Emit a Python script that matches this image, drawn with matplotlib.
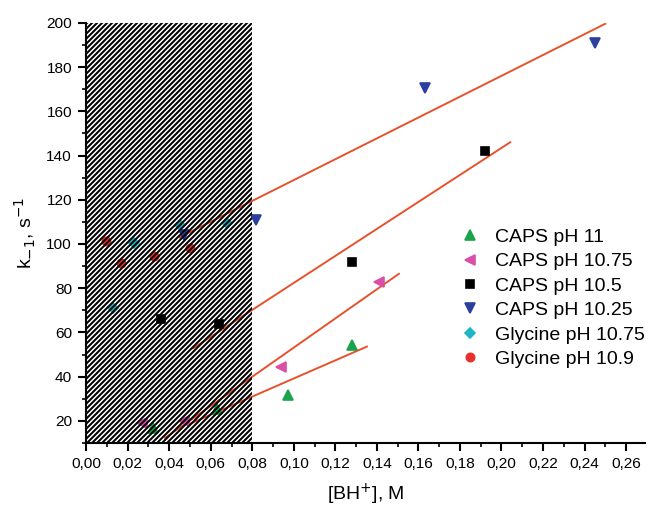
import numpy as np
import matplotlib
matplotlib.use('Agg')
import matplotlib.pyplot as plt
from matplotlib.patches import Rectangle
from matplotlib.ticker import MultipleLocator, FuncFormatter

# data
caps11_x = [0.032, 0.063, 0.097, 0.128]
caps11_y = [16.8, 25.5, 31.5, 54.4]
caps1075_x = [0.027, 0.047, 0.094, 0.141]
caps1075_y = [19.2, 20.0, 44.3, 83.0]
caps105_x = [0.036, 0.064, 0.128, 0.192]
caps105_y = [66.1, 63.9, 92.0, 142.2]
caps1025_x = [0.047, 0.082, 0.163, 0.245]
caps1025_y = [104.0, 110.9, 170.5, 190.8]
gly1075_x = [0.013, 0.023, 0.045, 0.068]
gly1075_y = [71.0, 100.4, 108.6, 109.4]
gly109_x = [0.0096, 0.0166, 0.0326, 0.050]
gly109_y = [101.5, 91.3, 94.6, 98.1]

# linear fits (end points)
fit11_x, fit11_y = [0.050, 0.1352], [18.7, 53.6]
fit1075_x, fit1075_y = [0.038, 0.1506], [12.3, 86.5]
fit105_x, fit105_y = [0.0515, 0.2042], [52.8, 146.0]
fit1025_x, fit1025_y = [0.045, 0.250], [103.0, 199.6]

plt.rcParams['font.family'] = ['Liberation Sans', 'DejaVu Sans']
plt.rcParams['hatch.linewidth'] = 1.2

# dpi 120 so the hatch tile gives ~5 px stripe spacing
fig = plt.figure(figsize=(5.4, 508 / 120), dpi=120)
ax = fig.add_axes([0.133, 0.128, 0.862, 0.827])

fit_color = '#e8502a'
for fx, fy in [(fit11_x, fit11_y), (fit1075_x, fit1075_y),
               (fit105_x, fit105_y), (fit1025_x, fit1025_y)]:
    ax.plot(fx, fy, color=fit_color, lw=1.15, zorder=2)

ax.plot(caps11_x, caps11_y, '^', color='#1aa34a', ms=5.8, ls='none', label='CAPS pH 11', zorder=3)
ax.plot(caps1075_x, caps1075_y, '<', color='#d94fa8', ms=5.8, ls='none', label='CAPS pH 10.75', zorder=3)
ax.plot(caps105_x, caps105_y, 's', color='black', ms=5, ls='none', label='CAPS pH 10.5', zorder=3)
ax.plot(caps1025_x, caps1025_y, 'v', color='#2b3f9e', ms=5.8, ls='none', label='CAPS pH 10.25', zorder=3)
ax.plot(gly1075_x, gly1075_y, 'D', color='#1fb5c8', ms=4.6, ls='none', label='Glycine pH 10.75', zorder=3)
ax.plot(gly109_x, gly109_y, 'o', color='#e8312a', ms=5, ls='none', label='Glycine pH 10.9', zorder=3)

ax.set_xlim(0, 0.269)
ax.set_ylim(10, 200)

# hatched region drawn over the points
ax.add_patch(Rectangle((0, 10), 0.08, 190, fill=False, hatch='////////',
                       edgecolor='black', lw=0, zorder=5))

ax.spines['top'].set_visible(False)
ax.spines['right'].set_visible(False)
ax.spines['left'].set_linewidth(1.25)
ax.spines['bottom'].set_linewidth(1.25)

ax.xaxis.set_major_locator(MultipleLocator(0.02))
ax.xaxis.set_minor_locator(MultipleLocator(0.01))
ax.yaxis.set_major_locator(MultipleLocator(20))
ax.yaxis.set_minor_locator(MultipleLocator(10))
ax.set_yticks(np.arange(20, 201, 20))
ax.xaxis.set_major_formatter(FuncFormatter(lambda v, p: f'{v:.2f}'.replace('.', ',')))
ax.tick_params(which='major', direction='out', length=5, width=1.25, labelsize=9.2)
ax.tick_params(which='minor', direction='out', length=2.5, width=1.0)

ax.set_xlabel('[BH$^{+}$], M', fontsize=11.7, labelpad=6.5)
ax.set_ylabel('k$_{-1}$, s$^{-1}$', fontsize=11.7, labelpad=5)

ax.legend(loc='upper left', bbox_to_anchor=(0.63, 0.553), frameon=False,
          fontsize=11.7, handletextpad=0.5, labelspacing=0.35, handlelength=1.5)

fig.savefig('out.png', dpi=120)
